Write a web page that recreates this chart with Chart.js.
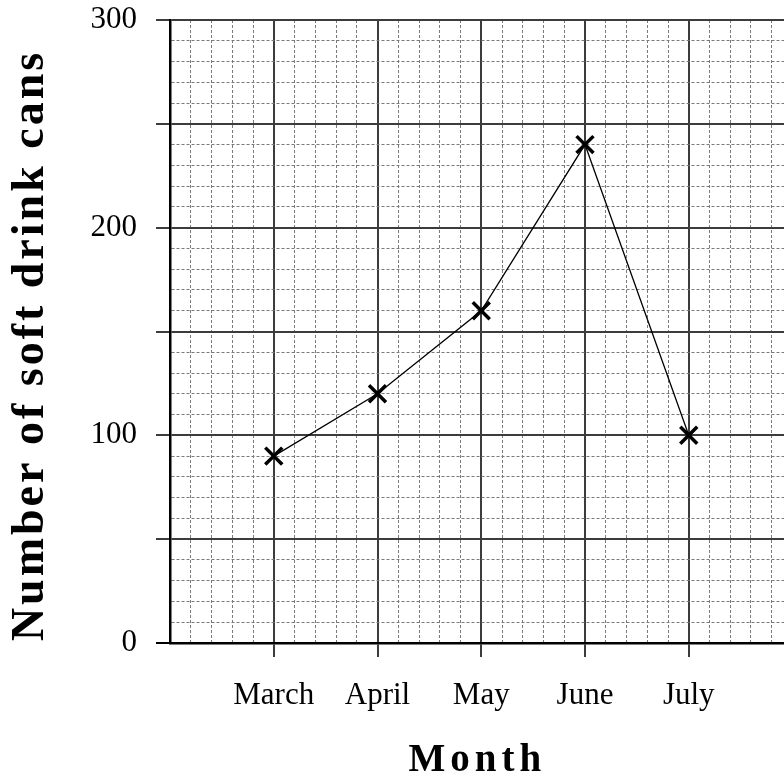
<!DOCTYPE html>
<html>
<head>
<meta charset="utf-8">
<title>Soft drink cans</title>
<script src="https://cdn.jsdelivr.net/npm/chart.js@4.4.1/dist/chart.umd.min.js"></script>
<style>
  html, body { margin: 0; padding: 0; background: #fff; overflow: hidden; }
  #wrap { width: 808px; height: 778px; }
</style>
</head>
<body>
<div id="wrap"><canvas id="chartLatas" width="808" height="778"></canvas></div>
<script>
// Cans sold per month
const months = ['March', 'April', 'May', 'June', 'July'];
const cans = [90, 120, 160, 240, 100];
const yLabels = [0, 100, 200, 300];

const isWhole = v => Math.abs(v - Math.round(v)) < 1e-6;
const isYMajor = v => Math.round(v) % 50 === 0;

// letter spacing (and a small nudge) for the bold axis titles
const titleSpacing = {
    id: 'titleSpacing',
    beforeDraw(chart, args, opts) {
        for (const id of ['x', 'y']) {
            const scale = chart.scales[id];
            if (scale._spaced) continue;
            const base = scale.drawTitle;
            const o = opts[id];
            scale.drawTitle = function () {
                this.ctx.save();
                this.ctx.letterSpacing = o.spacing;
                this.ctx.translate(o.dx || 0, o.dy || 0);
                base.call(this);
                this.ctx.restore();
            };
            scale._spaced = true;
        }
    }
};

const tickFont = { family: "'Liberation Serif', 'Times New Roman', serif", size: 31 };

new Chart(document.getElementById('chartLatas'), {
    type: 'line',
    data: {
        datasets: [{
            data: cans.map((v, i) => ({ x: i + 1, y: v })),
            borderColor: '#000',
            borderWidth: 1.3,
            pointStyle: 'crossRot',
            pointRadius: 12,
            pointBorderWidth: 3.5,
            pointBorderColor: '#000',
            tension: 0
        }]
    },
    options: {
        responsive: false,
        animation: false,
        layout: { padding: { top: 20, right: 7, left: 0, bottom: 0 } },
        plugins: {
            legend: { display: false },
            tooltip: { enabled: false },
            titleSpacing: { x: { spacing: '5px', dx: -4 }, y: { spacing: '3px', dy: 14 } }
        },
        scales: {
            x: {
                type: 'linear',
                min: 0,
                max: 6,
                afterFit: s => {
                    s.height = 135;
                    s.paddingLeft = 0;
                    s.paddingRight = 0;
                },
                ticks: {
                    stepSize: 0.2,
                    maxTicksLimit: 100,
                    autoSkip: false,
                    maxRotation: 0,
                    padding: 20,
                    color: '#000',
                    font: tickFont,
                    callback: v => (isWhole(v) && v >= 1 && v <= months.length) ? months[Math.round(v) - 1] : ''
                },
                grid: {
                    tickLength: 14,
                    color: c => {
                        const v = c.tick.value;
                        if (v === 0) return '#000';
                        return isWhole(v) ? '#3c3c3c' : '#7a7a7a';
                    },
                    lineWidth: c => isWhole(c.tick.value) ? 2 : 1,
                    tickColor: c => (isWhole(c.tick.value) && c.tick.value >= 1 && c.tick.value <= months.length) ? '#3c3c3c' : 'rgba(0,0,0,0)',
                    tickWidth: 2
                },
                border: {
                    color: '#000',
                    width: 2.5,
                    dash: c => (c.tick && !isWhole(c.tick.value)) ? [3, 2] : []
                },
                title: {
                    display: true,
                    text: 'Month',
                    color: '#000',
                    font: { family: "'Liberation Serif', 'Times New Roman', serif", size: 39, weight: 'bold', lineHeight: 0.9 },
                    padding: { top: 0, bottom: 0 }
                }
            },
            y: {
                min: 0,
                max: 300,
                afterFit: s => {
                    s.width = 170;
                    s.paddingTop = 0;
                    s.paddingBottom = 0;
                },
                ticks: {
                    stepSize: 10,
                    maxTicksLimit: 100,
                    autoSkip: false,
                    padding: 19,
                    color: '#000',
                    font: tickFont,
                    callback: v => yLabels.includes(v) ? String(v) : ''
                },
                grid: {
                    tickLength: 14,
                    color: c => {
                        const v = c.tick.value;
                        if (v === 0) return '#000';
                        return isYMajor(v) ? '#3c3c3c' : '#7a7a7a';
                    },
                    lineWidth: c => isYMajor(c.tick.value) ? 2 : 1,
                    tickColor: c => isYMajor(c.tick.value) ? (c.tick.value === 0 ? '#000' : '#3c3c3c') : 'rgba(0,0,0,0)',
                    tickWidth: c => isYMajor(c.tick.value) ? 2 : 0
                },
                border: {
                    color: '#000',
                    width: 2.5,
                    dash: c => (c.tick && !isYMajor(c.tick.value)) ? [3, 2] : []
                },
                title: {
                    display: true,
                    text: 'Number of soft drink cans',
                    color: '#000',
                    font: { family: "'Liberation Serif', 'Times New Roman', serif", size: 46, weight: 'bold', lineHeight: 1 },
                    padding: { top: 8, bottom: 0 }
                }
            }
        }
    },
    plugins: [titleSpacing]
});
</script>
</body>
</html>
